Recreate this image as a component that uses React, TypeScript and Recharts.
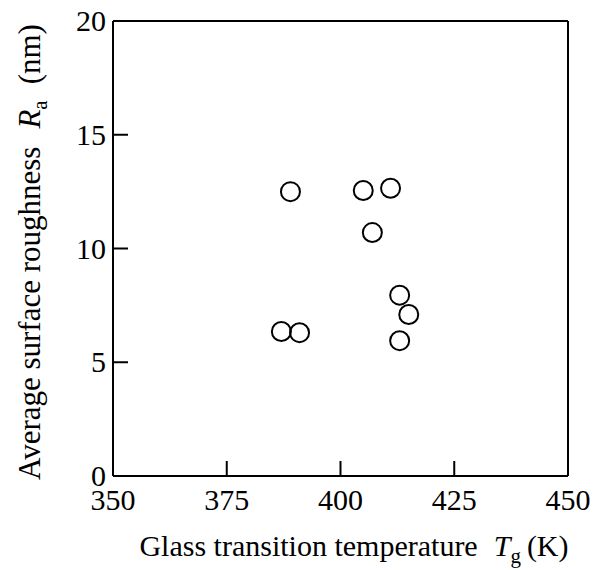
import React from 'react';
import { ScatterChart, Scatter, XAxis, YAxis, Label } from 'recharts';

// Glass transition temperature Tg (K) and average surface roughness Ra (nm)
const tgValues = [389, 405, 411, 407, 413, 415, 413, 387, 391];
const raValues = [12.5, 12.55, 12.65, 10.7, 7.95, 7.1, 5.95, 6.35, 6.3];
const xTicks = [350, 375, 400, 425, 450];
const yTicks = [0, 5, 10, 15, 20];

const points = tgValues.map((tg, i) => ({ tg, ra: raValues[i] }));

const FONT = '"Liberation Serif", "Times New Roman", serif';
const INK = '#000';
const TICK_LEN = 15;
const lineStyle = { stroke: INK, strokeWidth: 2 };

const Ring = (props: any) => {
  const { cx, cy } = props;
  return <circle cx={cx} cy={cy} r={9.5} fill="none" stroke={INK} strokeWidth={2} />;
};

// Inward tick marks drawn together with the tick labels
const BottomTick = (props: any) => {
  const { x, y, payload } = props;
  return (
    <g>
      <line x1={x} y1={y} x2={x} y2={y - TICK_LEN} stroke={INK} strokeWidth={2} />
      <text x={x} y={y + 34} textAnchor="middle" fontFamily={FONT} fontSize={30} fill={INK}>
        {payload.value}
      </text>
    </g>
  );
};

const LeftTick = (props: any) => {
  const { x, y, payload } = props;
  return (
    <g>
      <line x1={x} y1={y} x2={x + TICK_LEN} y2={y} stroke={INK} strokeWidth={2} />
      <text x={x - 7} y={y + 10} textAnchor="end" fontFamily={FONT} fontSize={30} fill={INK}>
        {payload.value}
      </text>
    </g>
  );
};

const TopTick = (props: any) => {
  const { x, y } = props;
  return <line x1={x} y1={y} x2={x} y2={y + TICK_LEN} stroke={INK} strokeWidth={2} />;
};

const RightTick = (props: any) => {
  const { x, y } = props;
  return <line x1={x} y1={y} x2={x - TICK_LEN} y2={y} stroke={INK} strokeWidth={2} />;
};

const XTitle = () => (
  <text x={354} y={556} textAnchor="middle" fontFamily={FONT} fontSize={30} fill={INK}>
    Glass transition temperature
    <tspan dx={16} fontStyle="italic">T</tspan>
    <tspan fontSize={21} dy={7}>g</tspan>
    <tspan dx={6} dy={-7}>(K)</tspan>
  </text>
);

const YTitle = () => {
  const cx = 40;
  const cy = 252;
  return (
    <text
      x={cx}
      y={cy}
      transform={`rotate(-90, ${cx}, ${cy})`}
      textAnchor="middle"
      fontFamily={FONT}
      fontSize={31}
      fill={INK}
    >
      Average surface roughness
      <tspan dx={18} fontStyle="italic">R</tspan>
      <tspan fontSize={21} dy={7}>a</tspan>
      <tspan dx={16} dy={-7}>(nm)</tspan>
    </text>
  );
};

export default function App() {
  return (
    <div style={{ position: 'absolute', left: 0, top: 0, background: '#fff' }}>
      <ScatterChart
        width={594}
        height={570}
        margin={{ top: 20, right: 25, left: 0, bottom: 0 }}
      >
        <XAxis
          xAxisId="bottom"
          dataKey="tg"
          type="number"
          domain={[350, 450]}
          ticks={xTicks}
          interval={0}
          height={94}
          tickSize={0}
          tickMargin={0}
          axisLine={lineStyle}
          tickLine={false}
          tick={<BottomTick />}
        >
          <Label content={<XTitle />} />
        </XAxis>
        <XAxis
          xAxisId="top"
          orientation="top"
          type="number"
          domain={[350, 450]}
          ticks={xTicks}
          interval={0}
          height={1}
          tickSize={0}
          tickMargin={0}
          axisLine={lineStyle}
          tickLine={false}
          tick={<TopTick />}
        />
        <YAxis
          yAxisId="left"
          dataKey="ra"
          type="number"
          domain={[0, 20]}
          ticks={yTicks}
          interval={0}
          width={113}
          tickSize={0}
          tickMargin={0}
          axisLine={lineStyle}
          tickLine={false}
          tick={<LeftTick />}
        >
          <Label content={<YTitle />} />
        </YAxis>
        <YAxis
          yAxisId="right"
          orientation="right"
          type="number"
          domain={[0, 20]}
          ticks={yTicks}
          interval={0}
          width={1}
          tickSize={0}
          tickMargin={0}
          axisLine={lineStyle}
          tickLine={false}
          tick={<RightTick />}
        />
        <Scatter
          data={points}
          xAxisId="bottom"
          yAxisId="left"
          shape={<Ring />}
          isAnimationActive={false}
        />
      </ScatterChart>
    </div>
  );
}
